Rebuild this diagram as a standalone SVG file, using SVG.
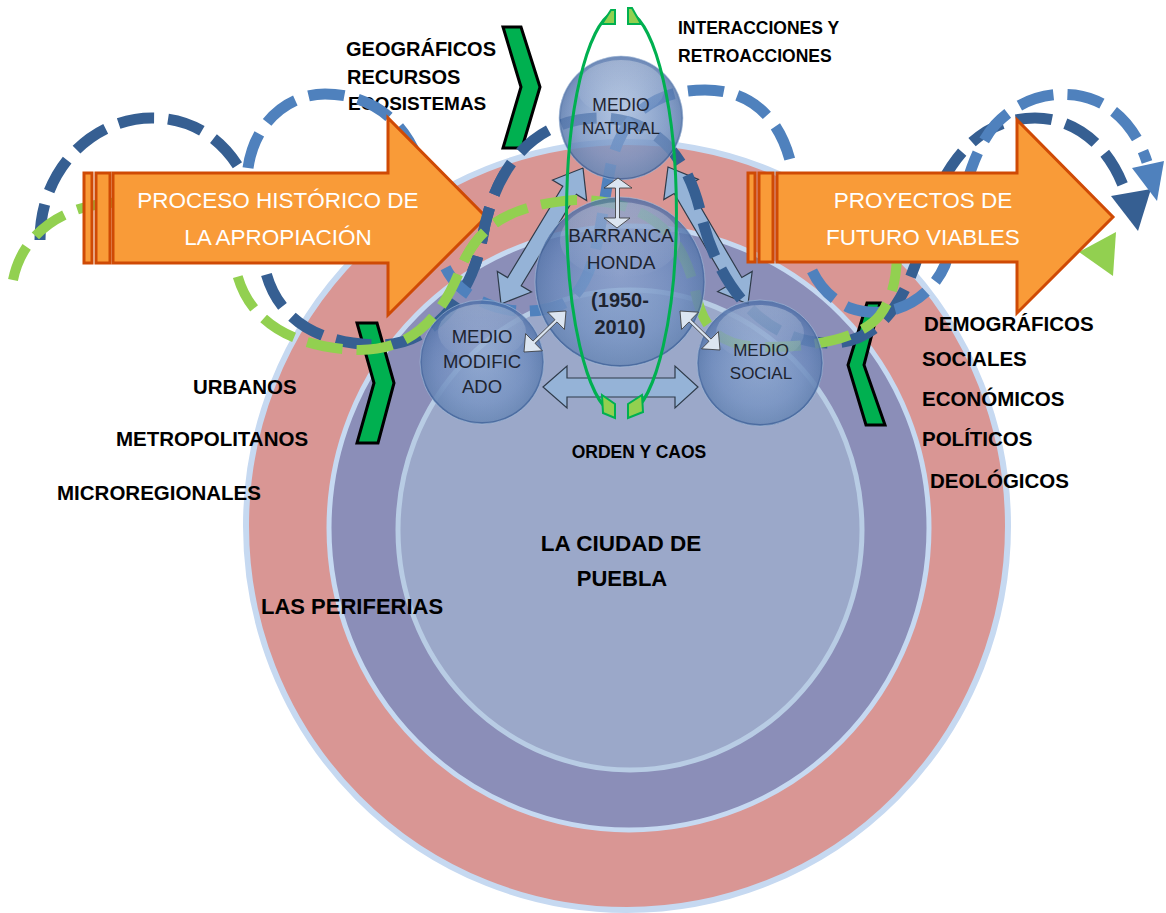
<svg xmlns="http://www.w3.org/2000/svg" width="1166" height="913" viewBox="0 0 1166 913">
<defs>
<style>
.lbl{font-family:"Liberation Sans",Arial,sans-serif;font-weight:bold;fill:#000}
.sph-t{font-family:"Liberation Sans",Arial,sans-serif;fill:#1e2430;text-anchor:middle}
.arr-t{font-family:"Liberation Sans",Arial,sans-serif;fill:#fff;text-anchor:middle;font-size:22.5px}
.orange{fill:#f99b38;stroke:#cf4a05;stroke-width:3;stroke-linejoin:miter}
.chev{fill:#00b050;stroke:#000;stroke-width:3;stroke-linejoin:miter}
.blk{fill:#95b3d7;stroke:#2f3b4a;stroke-width:1.2;stroke-linejoin:miter}
.sml{fill:#dbe5f1;stroke:#333;stroke-width:0.8}
.dk{fill:none;stroke:#365f92;stroke-width:11;stroke-dasharray:36 14}
.lt{fill:none;stroke:#4f81bd;stroke-width:11;stroke-dasharray:36 14}
.gr{fill:none;stroke:#92d050;stroke-width:10;stroke-dasharray:36 14}
.garc{fill:none;stroke:#00b050;stroke-width:3}
.gend{fill:#92d050;stroke:#00b050;stroke-width:2}
</style>
<radialGradient id="sph" cx="50%" cy="45%" r="55%">
<stop offset="0" stop-color="#7c9bcb" stop-opacity="0.6"/>
<stop offset="0.7" stop-color="#5677b0" stop-opacity="0.78"/>
<stop offset="1" stop-color="#3f6299" stop-opacity="0.88"/>
</radialGradient>
<linearGradient id="hl" x1="0" y1="0" x2="0" y2="1">
<stop offset="0" stop-color="#fff" stop-opacity="0.3"/>
<stop offset="1" stop-color="#fff" stop-opacity="0"/>
</linearGradient>
<linearGradient id="bl" x1="0" y1="0" x2="0" y2="1">
<stop offset="0" stop-color="#c6d9f1" stop-opacity="0"/>
<stop offset="1" stop-color="#c6d9f1" stop-opacity="0.3"/>
</linearGradient>
<clipPath id="tipclip"><rect x="455" y="150" width="45" height="120"/></clipPath>
</defs>
<rect width="1166" height="913" fill="#fff"/>

<g id="rings">
<ellipse id="periferias" cx="627" cy="526" rx="381" ry="384" fill="#d99694" stroke="#c6d9f1" stroke-width="6"/>
<ellipse id="metropoli" cx="629" cy="528" rx="300" ry="302" fill="#8b8eb8" stroke="#c6d9f1" stroke-width="5"/>
<ellipse id="ciudad" cx="630" cy="530" rx="232" ry="240" fill="#9ba8c9" stroke="#b8cce4" stroke-width="5"/>
</g>

<g id="labels">
<text class="lbl" x="346" y="56" font-size="20">GEOGRÁFICOS</text>
<text class="lbl" x="347" y="84" font-size="20">RECURSOS</text>
<text class="lbl" x="348" y="110" font-size="19">ECOSISTEMAS</text>
<text class="lbl" x="678" y="34" font-size="17.5">INTERACCIONES Y</text>
<text class="lbl" x="678" y="62" font-size="17.5">RETROACCIONES</text>
<text class="lbl" x="193" y="394" font-size="20.5">URBANOS</text>
<text class="lbl" x="116" y="446" font-size="20.5">METROPOLITANOS</text>
<text class="lbl" x="57" y="500" font-size="20.5">MICROREGIONALES</text>
<text class="lbl" x="924" y="331" font-size="20.5">DEMOGRÁFICOS</text>
<text class="lbl" x="922" y="366" font-size="20.5">SOCIALES</text>
<text class="lbl" x="922" y="406" font-size="20.5">ECONÓMICOS</text>
<text class="lbl" x="922" y="446" font-size="20.5">POLÍTICOS</text>
<text class="lbl" x="930" y="488" font-size="20.5">DEOLÓGICOS</text>
<text class="lbl" x="639" y="458" font-size="17.5" text-anchor="middle">ORDEN Y CAOS</text>
<text class="lbl" x="621" y="551" font-size="22.5" text-anchor="middle">LA CIUDAD DE</text>
<text class="lbl" x="622" y="586" font-size="22" text-anchor="middle">PUEBLA</text>
<text class="lbl" x="261" y="614" font-size="22">LAS PERIFERIAS</text>
</g>

<g id="chevrons">
<polygon id="chev-top" class="chev" points="503,27 521,27 540,87 522,148 503,148 521,87"/>
<polygon id="chev-left" class="chev" points="357,323 377,323 394,383 378,443 357,443 374,383"/>
<polygon id="chev-right" class="chev" points="867,303 880,303 864,365 885,425 866,425 848,365"/>
</g>

<g id="connectors">
<polygon class="blk" points="543,387 567,366 567,378 675,378 675,366 698,387 675,408 675,397 567,397 567,408"/>
<polygon class="blk" points="583,168 586.7,200.6 576.4,194.4 521.2,285.8 531.5,292 501,304 497.3,271.4 507.6,277.6 562.8,186.2 552.5,180"/>
<polygon class="blk" points="668,167 698.4,179.4 688,185.5 741.8,277.5 752.2,271.4 748,304 717.6,291.6 728,285.5 674.2,193.5 663.8,199.6"/>
</g>

<g id="waves">
<path id="wave-dark" class="dk" d="M40,240 C40,170 92,118 152,118 C215,118 258,170 262,250 C268,320 320,345 380,345 C430,345 470,300 482,240 C495,160 540,118 600,118 C650,118 685,150 700,210 C715,280 760,343 830,343 C880,343 905,300 920,250 C935,170 975,118 1035,118 C1075,118 1108,145 1124,188"/>
<polygon fill="#365f92" points="1111,196 1151,189 1138,231"/>
<path class="lt" d="M248,168 C255,120 290,94 325,94 C370,94 405,120 420,165 C435,210 430,260 460,287 C485,310 525,318 560,305 C600,290 600,210 612,160 C625,110 660,90 705,90 C760,90 790,130 795,190 C800,250 810,290 850,308 C890,322 930,300 945,265 C960,220 965,160 995,125 C1020,98 1050,92 1075,95 C1110,100 1135,125 1147,162"/>
<polygon fill="#4f81bd" points="1132,168 1164,161 1157,201"/>
<path id="wave-green" class="gr" d="M13,280 C22,235 60,207 110,203 C170,198 225,210 235,265 C245,320 290,348 360,350 C410,350 440,320 460,270 C478,225 510,205 575,200 C640,200 680,225 695,290 C702,325 715,345 760,347 C810,348 860,340 880,315 C895,295 897,270 897,250"/>
<polygon fill="#92d050" points="1079,252 1116,232 1113,276"/>
</g>

<g id="medio-natural">
<circle cx="621" cy="118" r="62" fill="url(#sph)" stroke="#a8bfdc" stroke-opacity="0.6"/>
<ellipse cx="621" cy="88" rx="44" ry="28" fill="url(#hl)"/>
<circle cx="621" cy="118" r="60" fill="url(#bl)"/>
<text class="sph-t" x="621" y="111" font-size="17.5">MEDIO</text>
<text class="sph-t" x="621" y="134" font-size="17">NATURAL</text>
</g>
<g id="barranca-honda">
<circle cx="620" cy="282" r="85" fill="url(#sph)" stroke="#a8bfdc" stroke-opacity="0.6"/>
<ellipse cx="620" cy="240" rx="60" ry="38" fill="url(#hl)"/>
<circle cx="620" cy="282" r="83" fill="url(#bl)"/>
<text class="sph-t" x="621" y="242" font-size="19">BARRANCA</text>
<text class="sph-t" x="621" y="269" font-size="19">HONDA</text>
<text class="sph-t" x="620" y="307" font-size="20" font-weight="bold">(1950-</text>
<text class="sph-t" x="620" y="334" font-size="20" font-weight="bold">2010)</text>
</g>
<g id="medio-modificado">
<circle cx="482" cy="362" r="62" fill="url(#sph)" stroke="#a8bfdc" stroke-opacity="0.6"/>
<ellipse cx="482" cy="332" rx="44" ry="28" fill="url(#hl)"/>
<circle cx="482" cy="362" r="60" fill="url(#bl)"/>
<text class="sph-t" x="482" y="343" font-size="18.5">MEDIO</text>
<text class="sph-t" x="482" y="368" font-size="18.5">MODIFIC</text>
<text class="sph-t" x="482" y="393" font-size="18.5">ADO</text>
</g>
<g id="medio-social">
<circle cx="760" cy="363" r="63" fill="url(#sph)" stroke="#a8bfdc" stroke-opacity="0.6"/>
<ellipse cx="760" cy="333" rx="44" ry="28" fill="url(#hl)"/>
<circle cx="760" cy="363" r="61" fill="url(#bl)"/>
<text class="sph-t" x="761" y="356" font-size="17">MEDIO</text>
<text class="sph-t" x="761" y="379" font-size="17">SOCIAL</text>
</g>

<g id="small-arrows">
<polygon class="sml" points="618,178 632,188 619.5,188 619.5,218 630,218 617,228 604,218 615.5,218 615.5,188 604,188"/>
<polygon class="sml" points="566,311 564.4,329.4 557,321.9 535,343.3 542.4,350.8 524,352 525.6,333.6 533,341.1 555,319.7 547.6,312.2"/>
<polygon class="sml" points="680,311 698.4,312.2 691,319.7 711,339.1 718.4,331.6 720,350 701.6,348.8 709,341.3 689,321.9 681.6,329.4"/>
</g>

<g id="interacciones-loop">
<path class="garc" d="M613,12 A54,203 0 0,0 613,414"/>
<path class="garc" d="M630,12 A54,203 0 0,1 630,414"/>
<polygon class="gend" points="602,24 611,10 615,10 615,24"/>
<polygon class="gend" points="628,8 632,8 641,24 628,24"/>
<polygon class="gend" points="602,395 615,404 615,418 603,413"/>
<polygon class="gend" points="628,404 642,395 643,412 628,418"/>
</g>

<g id="proceso-historico">
<rect class="orange" x="84" y="173" width="8" height="90"/>
<rect class="orange" x="96" y="173" width="14" height="90"/>
<polygon class="orange" points="113,173 388,173 388,118 486,217 388,315 388,263 113,263"/>
<text class="arr-t" x="278" y="208">PROCESO HISTÓRICO DE</text>
<text class="arr-t" x="278" y="245">LA APROPIACIÓN</text>
</g>

<g id="waves-over-tip" clip-path="url(#tipclip)">
<use href="#wave-dark"/>
<use href="#wave-green"/>
</g>

<g id="proyectos-futuro">
<rect class="orange" x="748" y="173" width="7" height="89"/>
<rect class="orange" x="759" y="173" width="14" height="89"/>
<polygon class="orange" points="777,173 1017,173 1017,120 1113,217 1017,313 1017,262 777,262"/>
<text class="arr-t" x="923" y="208" font-size="22">PROYECTOS DE</text>
<text class="arr-t" x="923" y="245" font-size="22">FUTURO VIABLES</text>
</g>
</svg>
